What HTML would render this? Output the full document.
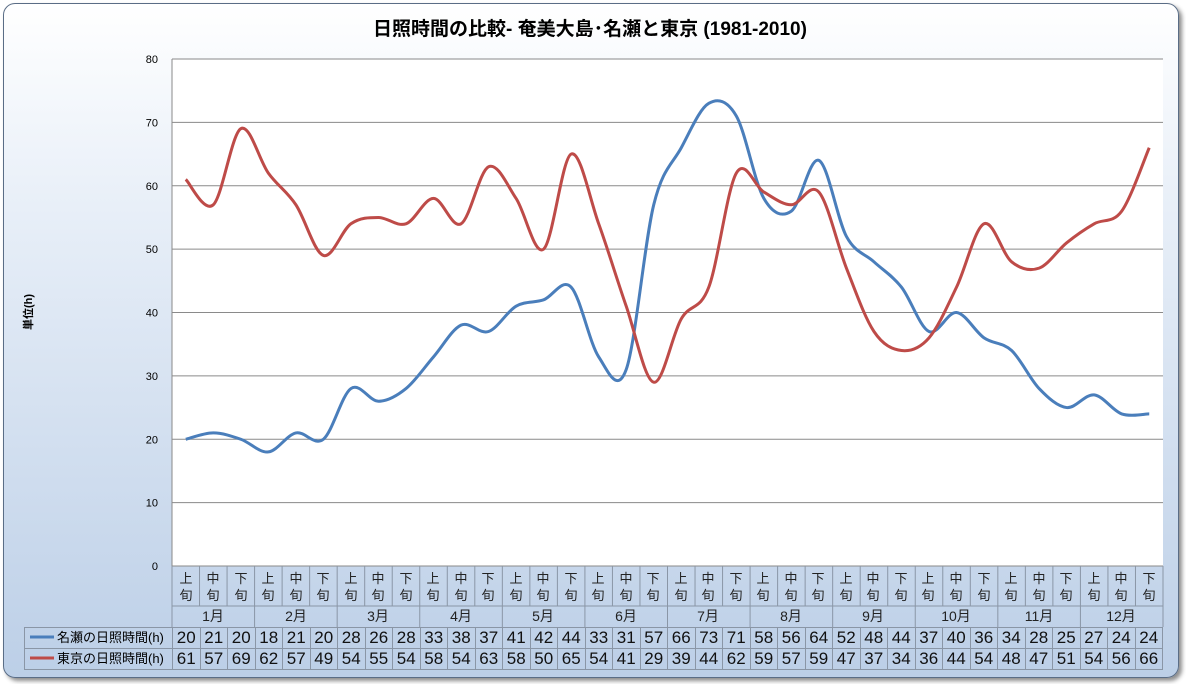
<!DOCTYPE html>
<html><head><meta charset="utf-8">
<style>
body{margin:0;width:1186px;height:684px;background:#fff;overflow:hidden;font-family:"Liberation Sans","Noto Sans CJK JP",sans-serif;}
#chart{position:absolute;left:3px;top:3px;width:1174px;height:673px;border:1px solid #5a6d86;border-radius:12px;background:linear-gradient(#ffffff 0%,#e8eff8 30%,#bccfe7 100%);box-shadow:3px 3px 4px rgba(0,0,0,0.45);}
#title{position:absolute;left:0;top:14px;width:1180px;text-align:center;font-size:19px;font-weight:bold;color:#000;}
svg{position:absolute;left:0;top:0;}
table{position:absolute;border-collapse:collapse;font-size:17px;color:#111;}
td{border:1px solid #8a96a6;text-align:center;padding:0;height:20px;line-height:20px;}
</style></head><body>
<div id="chart"></div>
<div id="title">日照時間の比較- 奄美大島･名瀬と東京 (1981-2010)</div>
<svg width="1186" height="684" id="s">
<rect x="172" y="59" width="991" height="507" fill="#fff"/>
<g stroke="#8a8a8a" stroke-width="1" id="grid"></g>
<g font-size="11" text-anchor="end" fill="#000" id="yl"></g>
<text x="32" y="312" font-size="11" font-weight="bold" transform="rotate(-90 32 312)" text-anchor="middle">単位(h)</text>
<g stroke="#8a96a6" fill="none" id="hl"></g>
<path id="p1" fill="none" stroke="#4a7ebb" stroke-width="3"/>
<path id="p2" fill="none" stroke="#be4b48" stroke-width="3"/>
<line x1="30" y1="637" x2="54" y2="637" stroke="#4a7ebb" stroke-width="3"/>
<line x1="30" y1="658" x2="54" y2="658" stroke="#be4b48" stroke-width="3"/>
<text x="57" y="642" font-size="13">名瀬の日照時間(h)</text>
<text x="57" y="663" font-size="13">東京の日照時間(h)</text>
</svg>
<table style="left:24px;top:627px;width:1139px;">
<tr><td style="width:147px;border-right:1px solid #8a96a6"></td><td>20</td><td>21</td><td>20</td><td>18</td><td>21</td><td>20</td><td>28</td><td>26</td><td>28</td><td>33</td><td>38</td><td>37</td><td>41</td><td>42</td><td>44</td><td>33</td><td>31</td><td>57</td><td>66</td><td>73</td><td>71</td><td>58</td><td>56</td><td>64</td><td>52</td><td>48</td><td>44</td><td>37</td><td>40</td><td>36</td><td>34</td><td>28</td><td>25</td><td>27</td><td>24</td><td>24</td></tr>
<tr><td></td><td>61</td><td>57</td><td>69</td><td>62</td><td>57</td><td>49</td><td>54</td><td>55</td><td>54</td><td>58</td><td>54</td><td>63</td><td>58</td><td>50</td><td>65</td><td>54</td><td>41</td><td>29</td><td>39</td><td>44</td><td>62</td><td>59</td><td>57</td><td>59</td><td>47</td><td>37</td><td>34</td><td>36</td><td>44</td><td>54</td><td>48</td><td>47</td><td>51</td><td>54</td><td>56</td><td>66</td></tr>
</table>
<svg width="1186" height="684" style="pointer-events:none">
<g font-size="14" fill="#222" text-anchor="middle">
<text x="213" y="621">1月</text><text x="296" y="621">2月</text><text x="378" y="621">3月</text><text x="461" y="621">4月</text><text x="543" y="621">5月</text><text x="626" y="621">6月</text><text x="708" y="621">7月</text><text x="791" y="621">8月</text><text x="873" y="621">9月</text><text x="956" y="621">10月</text><text x="1039" y="621">11月</text><text x="1121" y="621">12月</text>
</g>
</svg>
<script>
var N=[20,21,20,18,21,20,28,26,28,33,38,37,41,42,44,33,31,57,66,73,71,58,56,64,52,48,44,37,40,36,34,28,25,27,24,24];
var T=[61,57,69,62,57,49,54,55,54,58,54,63,58,50,65,54,41,29,39,44,62,59,57,59,47,37,34,36,44,54,48,47,51,54,56,66];
var x0=172,w=991/36,ns="http://www.w3.org/2000/svg";
function el(p,t,a){var e=document.createElementNS(ns,t);for(var k in a)e.setAttribute(k,a[k]);p.appendChild(e);return e;}
var g=document.getElementById('grid'),yl=document.getElementById('yl');
for(var v=0;v<=80;v+=10){var y=566-v*507/80;el(g,'line',{x1:172,x2:1163,y1:y,y2:y});var t=el(yl,'text',{x:158,y:y+4});t.textContent=v;}
el(g,'line',{x1:172,x2:172,y1:59,y2:566});
var hl=document.getElementById('hl');
el(hl,'line',{x1:172,x2:1163,y1:606,y2:606});
for(var i=0;i<=36;i++){var x=x0+i*w;el(hl,'line',{x1:x,x2:x,y1:566,y2:(i%3==0)?627:606});}
el(hl,'line',{x1:1163,x2:1163,y1:566,y2:627});
function path(d){var p=d.map(function(v,i){return [x0+w*(i+.5),566-v*507/80];});var s='M'+p[0][0]+','+p[0][1];
for(var i=0;i<p.length-1;i++){var a=p[i-1]||p[i],b=p[i],c=p[i+1],e=p[i+2]||c,k=6;
s+=' C'+(b[0]+(c[0]-a[0])/k)+','+(b[1]+(c[1]-a[1])/k)+' '+(c[0]-(e[0]-b[0])/k)+','+(c[1]-(e[1]-b[1])/k)+' '+c[0]+','+c[1];}return s;}
document.getElementById('p1').setAttribute('d',path(N));
document.getElementById('p2').setAttribute('d',path(T));
</script>
<svg width="1186" height="684" style="position:absolute;left:0;top:0">
<g font-size="13" fill="#222" text-anchor="middle">
<text x="186" y="583">上</text><text x="186" y="600">旬</text><text x="213" y="583">中</text><text x="213" y="600">旬</text><text x="241" y="583">下</text><text x="241" y="600">旬</text>
<text x="268" y="583">上</text><text x="268" y="600">旬</text><text x="296" y="583">中</text><text x="296" y="600">旬</text><text x="323" y="583">下</text><text x="323" y="600">旬</text>
<text x="351" y="583">上</text><text x="351" y="600">旬</text><text x="378" y="583">中</text><text x="378" y="600">旬</text><text x="406" y="583">下</text><text x="406" y="600">旬</text>
<text x="433" y="583">上</text><text x="433" y="600">旬</text><text x="461" y="583">中</text><text x="461" y="600">旬</text><text x="488" y="583">下</text><text x="488" y="600">旬</text>
<text x="516" y="583">上</text><text x="516" y="600">旬</text><text x="543" y="583">中</text><text x="543" y="600">旬</text><text x="571" y="583">下</text><text x="571" y="600">旬</text>
<text x="598" y="583">上</text><text x="598" y="600">旬</text><text x="626" y="583">中</text><text x="626" y="600">旬</text><text x="653" y="583">下</text><text x="653" y="600">旬</text>
<text x="681" y="583">上</text><text x="681" y="600">旬</text><text x="708" y="583">中</text><text x="708" y="600">旬</text><text x="736" y="583">下</text><text x="736" y="600">旬</text>
<text x="763" y="583">上</text><text x="763" y="600">旬</text><text x="791" y="583">中</text><text x="791" y="600">旬</text><text x="818" y="583">下</text><text x="818" y="600">旬</text>
<text x="846" y="583">上</text><text x="846" y="600">旬</text><text x="873" y="583">中</text><text x="873" y="600">旬</text><text x="901" y="583">下</text><text x="901" y="600">旬</text>
<text x="928" y="583">上</text><text x="928" y="600">旬</text><text x="956" y="583">中</text><text x="956" y="600">旬</text><text x="984" y="583">下</text><text x="984" y="600">旬</text>
<text x="1011" y="583">上</text><text x="1011" y="600">旬</text><text x="1039" y="583">中</text><text x="1039" y="600">旬</text><text x="1066" y="583">下</text><text x="1066" y="600">旬</text>
<text x="1094" y="583">上</text><text x="1094" y="600">旬</text><text x="1121" y="583">中</text><text x="1121" y="600">旬</text><text x="1149" y="583">下</text><text x="1149" y="600">旬</text>
</g>
</svg>
</body></html>
